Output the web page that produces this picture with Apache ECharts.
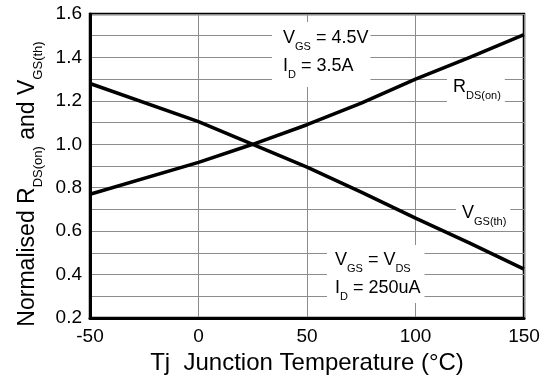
<!DOCTYPE html>
<html><head><meta charset="utf-8">
<script src="https://cdn.jsdelivr.net/npm/echarts@6/dist/echarts.min.js"></script>
<style>html,body{margin:0;padding:0;background:#fff}#c{width:548px;height:380px}</style>
</head><body><div id="c"></div>
<script>
const temps = [-50, 0, 25, 50, 75, 100, 125, 150];
const rdsOn = [0.77, 0.917, 1.0, 1.09, 1.19, 1.30, 1.40, 1.505];
const vgsTh = [1.28, 1.104, 1.0, 0.895, 0.78, 0.66, 0.545, 0.425];
const xTicks = [-50, 0, 50, 100, 150];
const yTicks = [0.2, 0.4, 0.6, 0.8, 1.0, 1.2, 1.4, 1.6];

const FF = "'Liberation Sans', Arial, sans-serif";
const chart = echarts.init(document.getElementById('c'), null, {renderer: 'canvas'});
const subRich = {
  m: {fontSize: 18, lineHeight: 28, fontFamily: FF, color: '#000'},
  s: {fontSize: 11, lineHeight: 11, verticalAlign: 'bottom', fontFamily: FF, color: '#000'}
};
function label(x, y, text, pad) {
  return {type: 'text', x: x, y: y, z: 100,
    style: {text: text, rich: subRich, backgroundColor: '#fff', padding: pad, align: 'left', verticalAlign: 'top', fontFamily: FF, fontSize: 18, fill: '#000'}};
}
chart.setOption({
  animation: false,
  backgroundColor: '#fff',
  grid: {left: 90, right: 24, top: 14, bottom: 62, show: true, borderColor: '#000', borderWidth: 2.5, backgroundColor: 'transparent'},
  xAxis: {
    type: 'value', min: xTicks[0], max: xTicks[xTicks.length - 1], interval: 50,
    axisLine: {show: true, onZero: false, lineStyle: {color: '#000', width: 3}},
    axisTick: {show: false},
    axisLabel: {color: '#000', fontSize: 19, fontFamily: FF, margin: 9},
    splitLine: {show: true, lineStyle: {color: '#8c8c8c', width: 1}},
    name: 'Tj  Junction Temperature (°C)', nameLocation: 'middle', nameGap: 29,
    nameTextStyle: {color: '#000', fontSize: 24, fontFamily: FF}
  },
  yAxis: {
    type: 'value', min: yTicks[0], max: yTicks[yTicks.length - 1], interval: 0.2,
    axisLine: {show: true, onZero: false, lineStyle: {color: '#000', width: 3}},
    axisTick: {show: false},
    axisLabel: {color: '#000', fontSize: 19, fontFamily: FF, margin: 8, formatter: v => v.toFixed(1)},
    splitLine: {show: true, lineStyle: {color: '#8c8c8c', width: 1}},
    minorTick: {show: false, splitNumber: 2},
    minorSplitLine: {show: true, lineStyle: {color: '#8c8c8c', width: 1}},
    name: '{m|Normalised R}{s|DS(on)}{m| and V}{s|GS(th)}', nameLocation: 'middle', nameGap: 44, nameRotate: 90,
    nameTextStyle: {color: '#000', fontFamily: FF, padding: [0, 36, 0, 0],
      rich: {m: {fontSize: 23, lineHeight: 34, fontFamily: FF, color: '#000'},
             s: {fontSize: 13, lineHeight: 13, verticalAlign: 'bottom', fontFamily: FF, color: '#000'}}}
  },
  series: [
    {type: 'line', name: 'RDS(on)', data: temps.map((t, i) => [t, rdsOn[i]]), symbol: 'none', lineStyle: {color: '#000', width: 3.5}, z: 5},
    {type: 'line', name: 'VGS(th)', data: temps.map((t, i) => [t, vgsTh[i]]), symbol: 'none', lineStyle: {color: '#000', width: 3.5}, z: 5}
  ],
  graphic: [
    label(272, 22, '{m|V}{s|GS}{m| = 4.5V}\n{m|I}{s|D}{m| = 3.5A}', [2, 2, 7, 11]),
    label(447, 71, '{m|R}{s|DS(on)}', [2, 4, 5, 6]),
    label(456, 197, '{m|V}{s|GS(th)}', [2, 4, 1, 6]),
    label(327, 245, '{m|V}{s|GS}{m| = V}{s|DS}\n{m|I}{s|D}{m| = 250uA}', [1, 4, 1, 8])
  ]
});
</script></body></html>
